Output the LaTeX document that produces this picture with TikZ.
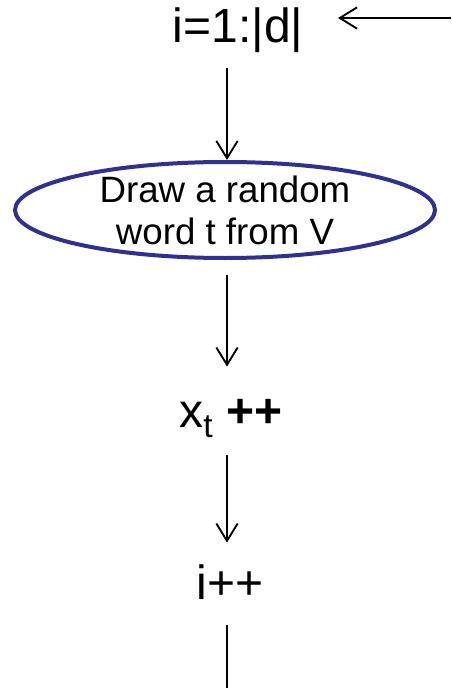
\documentclass[tikz,border=0pt]{standalone}
\usepackage{fontspec}
\setmainfont{Liberation Sans}
\usetikzlibrary{shapes.geometric,arrows.meta}
\definecolor{figloopblue}{HTML}{2E3192}
\tikzset{
  flow/.style={draw=black, line width=1.6pt, -{Straight Barb[length=13pt,width=16pt,line width=1.4pt]}},
  plainline/.style={draw=black, line width=1.6pt},
  steptext/.style={inner sep=0pt, anchor=base, font=\fontsize{36}{40}\selectfont},
  pickbox/.style={ellipse, draw=figloopblue, line width=3pt, inner sep=0pt, inner ysep=-6pt,
    minimum width=315pt, minimum height=72pt, align=center, font=\fontsize{27.5}{31.5}\selectfont}
}
\begin{document}
\begin{tikzpicture}[x=0.75pt,y=-0.75pt]
  \useasboundingbox (0,0) rectangle (451,688);
  % loop header and the steps below it
  \node[steptext] (loop) at (238,43) {i=1:|d|};
  \node[pickbox] (pick) at (225,210) {Draw a random\\word t from V};
  \node[steptext] (count) at (231,427) {x\textsubscript{t} \textbf{++}};
  \node[steptext] (next) at (230,599) {i++};
  % free ends of the loop-back line
  \coordinate (col) at (227,0);
  \coordinate (backin) at (338,18);
  \coordinate (backout) at (451,18);
  \coordinate (down) at (227,688);
  % connectors
  \draw[flow] (backout) -- (backin);
  \draw[flow,shorten <=11pt] (loop.south -| col) -- (pick.north -| col);
  \draw[flow,shorten <=11pt,shorten >=24pt] (pick.south -| col) -- (count.north -| col);
  \draw[flow,shorten <=13pt,shorten >=16pt] (count.south -| col) -- (next.north -| col);
  \draw[plainline,shorten <=19pt] (next.south -| col) -- (down);
\end{tikzpicture}
\end{document}
